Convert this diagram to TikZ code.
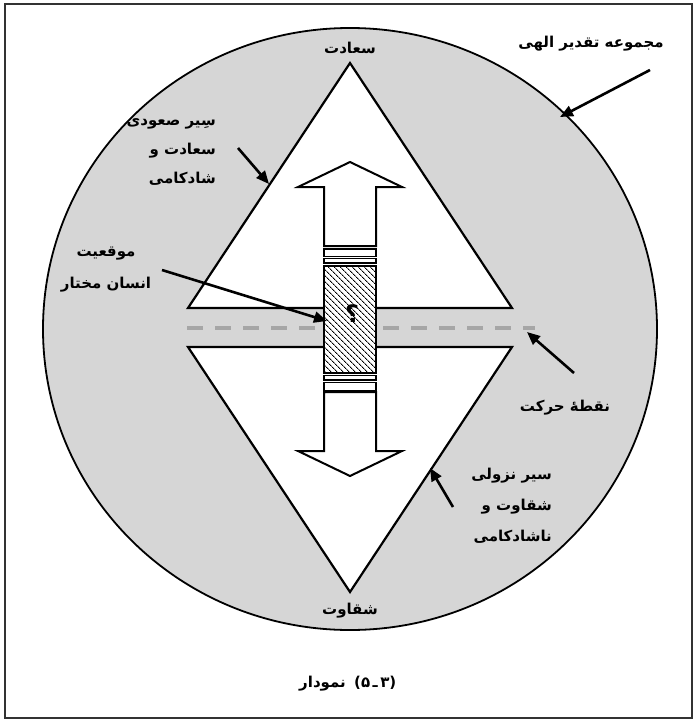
\documentclass[tikz,border=0pt]{standalone}
\usepackage{fontspec}
\newfontfamily\fa[Script=Arabic]{DejaVu Sans}
\newfontfamily\fadigit[Script=Latin]{DejaVu Sans}
\TeXXeTstate=1
\usetikzlibrary{arrows.meta,patterns.meta}
\definecolor{circlegray}{RGB}{214,214,214}
\definecolor{dashgray}{RGB}{166,166,166}
\definecolor{framegray}{RGB}{50,50,50}
\begin{document}
\begin{tikzpicture}[x=1pt,y=-1pt,
  lbl/.style={font=\fa\bfseries\fontsize{15}{18}\selectfont, inner sep=0pt},
  callout/.style={line width=2.6pt, -{Triangle[length=13pt,width=11pt]}},
  tri/.style={draw=black, fill=white, line width=2.2pt, line join=miter},
  arrowbody/.style={draw=black, fill=white, line width=2pt},
  bar/.style={draw=black, fill=white, line width=1.6pt},
]
\useasboundingbox (0,0) rectangle (700,725);
\draw[framegray, line width=2.5pt] (5,4) rectangle (692,718);
\draw[fill=circlegray, line width=1.8pt] (350,329) ellipse [x radius=307, y radius=301];
% triangles
\draw[tri] (350,63) -- (512,308) -- (188,308) -- cycle;
\draw[tri] (188,347) -- (512,347) -- (350,592) -- cycle;
% dashed line
\draw[dashgray, line width=4pt, dash pattern=on 16pt off 12pt] (187,328) -- (535,328);
% double arrow
\draw[arrowbody] (324,246) -- (324,187) -- (298,187) -- (350,162) -- (402,187) -- (376,187) -- (376,246) -- cycle;
\draw[arrowbody] (324,392) -- (324,451) -- (298,451) -- (350,476) -- (402,451) -- (376,451) -- (376,392) -- cycle;
\draw[bar] (324,249) rectangle (376,256.5);
\draw[bar] (324,258.5) rectangle (376,263);
\draw[bar] (324,375.5) rectangle (376,380);
\draw[bar] (324,382.5) rectangle (376,390.5);
\node[draw, line width=1.8pt, minimum width=52pt, minimum height=107pt, inner sep=0pt,
  preaction={fill=white}, pattern={Lines[angle=-45,distance=4pt,line width=1pt]}] (box) at (350,319.5) {};
\node[lbl, font=\fa\bfseries\fontsize{24}{24}\selectfont] (q) at (352,314) {؟};
% labels
\node[lbl] (saadat) at (350,48) {\beginR سعادت\endR};
\node[lbl] (majmoe) at (591,44) {\beginR مجموعه تقدیر الهی\endR};
\node[lbl, font=\fa\bfseries\fontsize{15}{29}\selectfont, align=right, anchor=east] (soudi) at (216,152)
  {\beginR سِیر صعودی\endR\\ \beginR سعادت و\endR\\ \beginR شادکامی\endR};
\node[lbl, font=\fa\bfseries\fontsize{15}{32}\selectfont, align=center] (mowqe) at (106,270)
  {\beginR موقعیت\endR\\ \beginR انسان مختار\endR};
\node[lbl] (noqte) at (565,408) {\beginR نقطهٔ حرکت\endR};
\node[lbl, font=\fa\bfseries\fontsize{15}{31}\selectfont, align=right, anchor=east] (nozuli) at (552,506)
  {\beginR سیر نزولی\endR\\ \beginR شقاوت و\endR\\ \beginR ناشادکامی\endR};
\node[lbl] (shaghavat) at (350,611) {\beginR شقاوت\endR};
\node[lbl, anchor=base east] (capword) at (346,687) {\beginR نمودار\endR};
\node[lbl, font=\fadigit\bfseries\fontsize{15}{18}\selectfont, anchor=base west] (capnum) at (354,687) {(۵\,ـ\,۳)};
% callout arrows
\coordinate (a1s) at (650,70); \coordinate (a1e) at (560,117);
\coordinate (a2s) at (238,148); \coordinate (a2e) at (269,184);
\coordinate (a3s) at (162,270); \coordinate (a3e) at (327,321);
\coordinate (a4s) at (574,373); \coordinate (a4e) at (527,332);
\coordinate (a5s) at (453,507); \coordinate (a5e) at (430,468);
\draw[callout] (a1s) -- (a1e);
\draw[callout] (a2s) -- (a2e);
\draw[callout] (a3s) -- (a3e);
\draw[callout] (a4s) -- (a4e);
\draw[callout] (a5s) -- (a5e);
\end{tikzpicture}
\end{document}
